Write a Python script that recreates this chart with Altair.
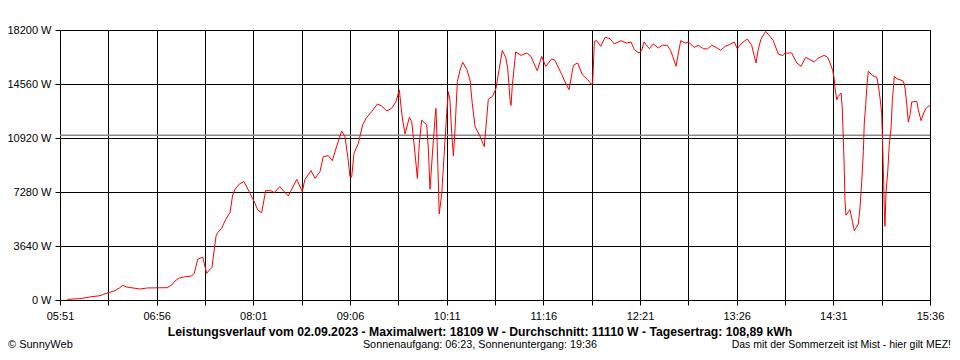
import altair as alt
import pandas as pd

# time of day in minutes after midnight, power in W
minutes = [
    355.9, 364.4, 370.7, 377.9, 380.1, 383.5, 388.0, 390.9, 393.2, 395.8,
    404.8, 409.7, 423.1, 426.1, 428.3, 431.2, 434.4, 439.6, 441.3, 443.6,
    445.1, 447.0, 448.0, 449.6, 451.4, 453.2, 455.9, 457.0, 459.7, 462.4,
    465.3, 467.1, 468.7, 471.6, 474.7, 478.8, 482.1, 483.9, 486.6, 489.3,
    492.7, 495.1, 498.7, 504.5, 510.2, 513.9, 515.7, 519.8, 522.5, 525.8,
    528.0, 531.4, 534.1, 537.1, 540.4, 542.6, 544.5, 546.0, 547.1, 548.7,
    551.6, 554.5, 556.8, 560.6, 564.4, 567.3, 570.7, 574.0, 576.9, 579.2,
    580.3, 581.4, 583.0, 585.9, 587.5, 589.7, 591.3, 592.6, 594.2, 597.6,
    598.7, 599.8, 601.6, 603.2, 603.8, 604.7, 606.0, 607.7, 609.2, 611.0,
    612.1, 613.2, 614.4, 615.5, 616.6, 618.2, 620.0, 621.8, 624.5, 626.7,
    628.2, 630.1, 633.4, 636.3, 637.9, 639.0, 642.0, 644.2, 646.4, 648.4,
    650.7, 652.0, 653.6, 654.3, 655.1, 657.4, 661.0, 664.8, 667.7, 669.9,
    671.9, 674.9, 677.6, 681.6, 683.8, 688.4, 691.7, 693.3, 696.2, 699.1,
    702.2, 705.8, 708.5, 709.2, 709.6, 710.3, 711.9, 714.6, 717.5, 720.8,
    723.7, 728.2, 732.1, 735.0, 737.2, 740.3, 742.1, 743.7, 747.3, 749.9,
    753.3, 756.0, 759.4, 761.6, 763.4, 765.2, 766.8, 768.4, 771.3, 773.5,
    777.5, 780.2, 783.6, 786.3, 789.2, 792.1, 795.3, 798.2, 801.1, 804.4,
    806.4, 809.4, 813.2, 816.1, 817.7, 819.0, 820.5, 822.2, 825.5, 828.4,
    830.6, 834.0, 837.0, 838.5, 843.0, 846.4, 849.3, 852.4, 855.3, 858.2,
    860.9, 864.9, 867.2, 868.8, 870.6, 871.7, 872.1, 873.3, 874.3, 876.2,
    877.0, 877.7, 878.4, 878.8, 879.5, 882.2, 883.8, 885.1, 887.8, 888.9,
    890.1, 891.2, 891.8, 892.8, 893.4, 894.5, 897.2, 900.2, 901.2, 902.4,
    903.5, 903.9, 904.4, 904.9, 905.3, 905.7, 906.4, 907.6, 908.6, 909.8,
    910.7, 911.3, 912.0, 913.6, 915.8, 918.1, 919.2, 920.3, 921.4, 922.6,
    923.7, 927.1, 928.1, 930.0, 931.5, 933.1, 934.9, 936.0,
]
watts = [
    47, 88, 200, 290, 380, 490, 630, 810, 990, 875,
    740, 810, 830, 1010, 1280, 1480, 1550, 1620, 1800, 2740,
    2810, 2880, 2470, 1800, 2020, 2200, 4300, 4540, 4830, 5440,
    5890, 7080, 7460, 7820, 7980, 7190, 6520, 6070, 5890, 7370,
    7370, 7240, 7640, 7010, 8130, 7310, 8130, 8720, 8200, 8650,
    9660, 9730, 9390, 10380, 11390, 11010, 9660, 8310, 8270, 9890,
    10560, 11800, 12250, 12700, 13210, 13080, 12740, 12920, 13370, 14160,
    13030, 12130, 11190, 12310, 12020, 9890, 8200, 10560, 12130, 11800,
    10110, 7460, 10110, 12310, 12920, 10340, 5800, 7190, 9660, 12580,
    14040, 13480, 11240, 9710, 11460, 14720, 15500, 16020, 15550, 14830,
    13260, 11680, 11050, 10340, 12250, 13530, 13750, 14270, 15620, 16810,
    16360, 15640, 13500, 13120, 14400, 16720, 16490, 16650, 16420, 15910,
    15460, 16420, 15750, 16250, 16160, 15190, 14470, 14180, 15820, 15980,
    15190, 14850, 14510, 14740, 15640, 17440, 17480, 17100, 17710, 17620,
    17260, 17480, 17320, 17390, 16870, 16650, 16810, 17390, 16940, 17260,
    16990, 17170, 17170, 16810, 16310, 15750, 16650, 17480, 17320, 17390,
    17030, 17170, 16940, 16920, 17170, 17030, 16830, 17100, 17210, 17390,
    16940, 17320, 17590, 17170, 16490, 15980, 16870, 17550, 18110, 17770,
    17480, 16580, 16470, 16650, 16650, 15980, 15750, 16360, 16200, 16040,
    16310, 16490, 16360, 15980, 15460, 14850, 14290, 13500, 13730, 13950,
    12940, 10920, 8670, 6760, 5710, 6090, 5300, 4670, 5120, 6200,
    8000, 10020, 11930, 13170, 14180, 15420, 15140, 15010, 14510, 13620,
    12600, 11370, 9570, 7770, 6020, 4970, 7210, 8670, 10470, 11590,
    13500, 14180, 15080, 14920, 14850, 14740, 14290, 13280, 12000, 12490,
    13350, 13390, 12830, 12090, 12540, 12900, 13060, 13080,
]

average_w = [11110]
x_ticks = [351, 383.5, 416, 448.5, 481, 513.5, 546, 578.5, 611, 643.5,
           676, 708.5, 741, 773.5, 806, 838.5, 871, 903.5, 936]
y_ticks = [0, 3640, 7280, 10920, 14560, 18200]

title_text = ["Leistungsverlauf vom 02.09.2023 - Maximalwert: 18109 W - "
              "Durchschnitt: 11110 W - Tagesertrag: 108,89 kWh"]
sun_text = ["Sonnenaufgang: 06:23, Sonnenuntergang: 19:36"]
note_text = ["Das mit der Sommerzeit ist Mist - hier gilt MEZ!"]
copy_text = ["\u00a9 SunnyWeb"]

FONT = "Liberation Sans"

df = pd.DataFrame({"t": minutes, "w": watts})

x_label_expr = (
    "(datum.value - 351) % 65 == 0 ? "
    "((floor(datum.value / 60) < 10 ? '0' : '') + floor(datum.value / 60) + ':' + "
    "((datum.value % 60) < 10 ? '0' : '') + (datum.value % 60)) : ''"
)

x_enc = alt.X(
    "t:Q",
    scale=alt.Scale(domain=[351, 936], nice=False, zero=False),
    axis=alt.Axis(
        values=x_ticks, labelExpr=x_label_expr, title=None,
        grid=True, gridColor="black", gridOpacity=1, gridWidth=1,
        tickColor="black", tickSize=5, tickWidth=1,
        domainColor="black", domainWidth=1,
        labelFont=FONT, labelFontSize=11, labelColor="black",
        labelPadding=5, labelOverlap=False, labelFlush=False, labelBound=False,
    ),
)
y_enc = alt.Y(
    "w:Q",
    scale=alt.Scale(domain=[0, 18200], nice=False, zero=True),
    axis=alt.Axis(
        values=y_ticks, labelExpr="datum.value + ' W'", title=None,
        grid=True, gridColor="black", gridOpacity=1, gridWidth=1,
        tickColor="black", tickSize=5, tickWidth=1,
        domainColor="black", domainWidth=1,
        labelFont=FONT, labelFontSize=11, labelColor="black",
        labelPadding=4, labelOverlap=False,
    ),
)

line = alt.Chart(df).mark_line(color="#ff0000", strokeWidth=1, clip=True).encode(
    x=x_enc, y=y_enc
)

avg = alt.Chart(pd.DataFrame({"w": average_w})).mark_rule(
    color="#8a8a8a", strokeWidth=1.5
).encode(y=alt.Y("w:Q"))


def txt(values, x, y, align, size=11, bold=False):
    return alt.Chart(pd.DataFrame({"s": values})).mark_text(
        font=FONT, fontSize=size, fontWeight="bold" if bold else "normal",
        align=align, baseline="middle", color="black",
    ).encode(text="s:N", x=alt.value(x), y=alt.value(y))


chart = alt.layer(
    avg,
    line,
    txt(title_text, 420, 302, "center", size=12.2, bold=True),
    txt(sun_text, 420, 315, "center", size=10.8),
    txt(note_text, 891, 315, "right", size=10.5),
    txt(copy_text, -52, 315, "left", size=11),
).properties(
    width=870,
    height=270,
    autosize=alt.AutoSizeParams(type="none"),
    padding={"left": 52, "top": 22, "right": 22, "bottom": 52},
    background="white",
).configure_view(stroke="black", strokeWidth=1)

chart.save("out.html", embed_options={"renderer": "svg", "actions": False})
